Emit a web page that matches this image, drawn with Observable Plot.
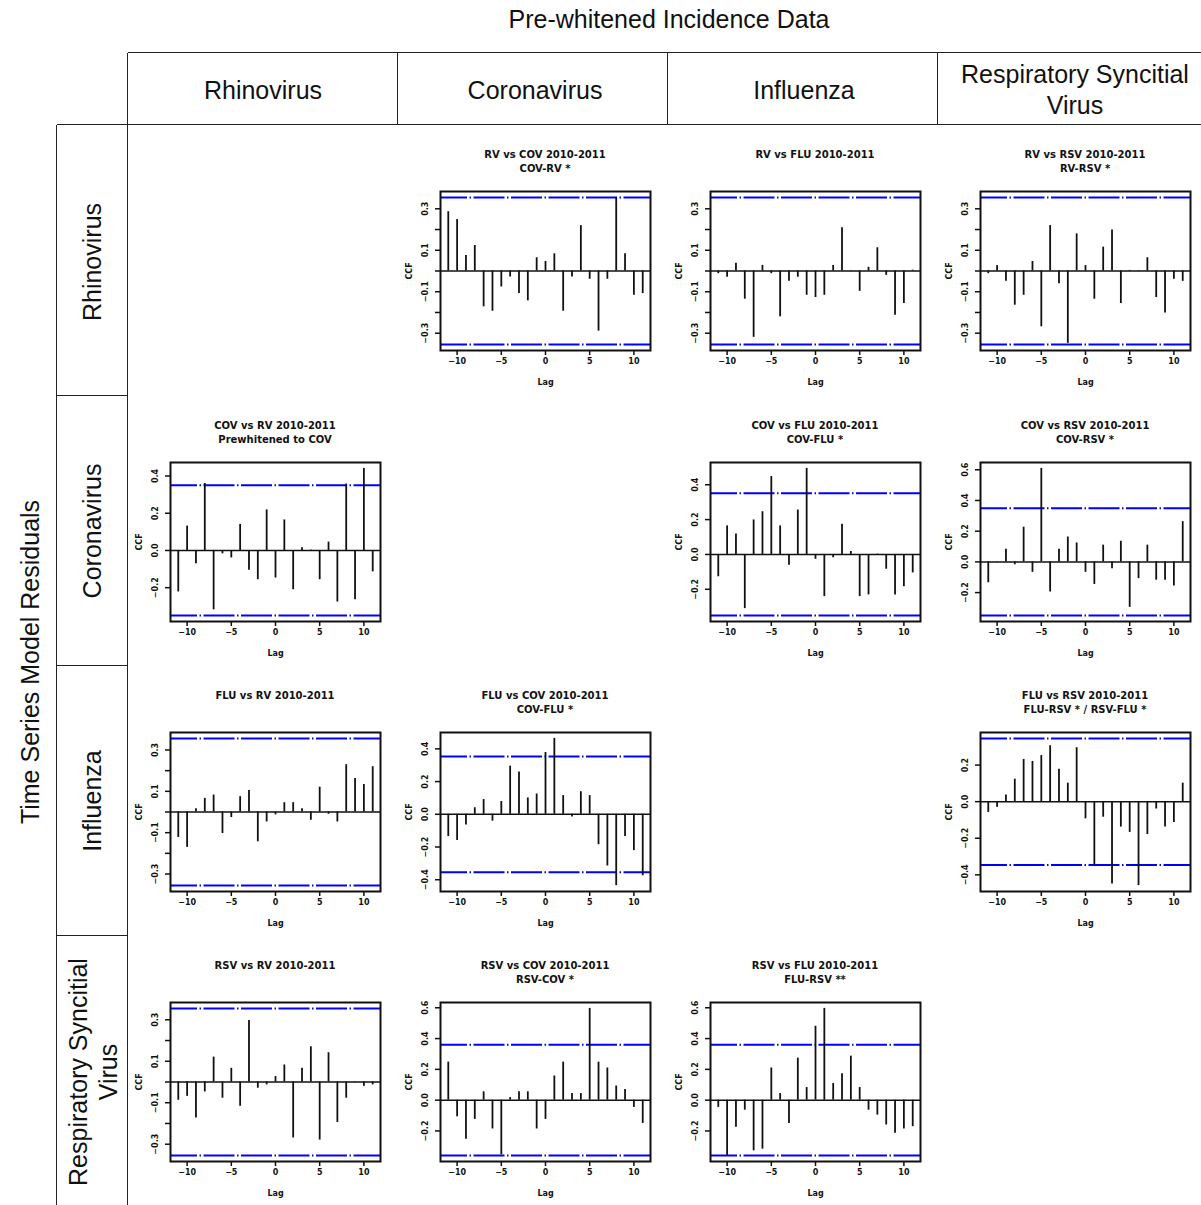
<!DOCTYPE html>
<html><head><meta charset="utf-8">
<script src="https://cdn.jsdelivr.net/npm/d3@7"></script>
<script src="https://cdn.jsdelivr.net/npm/@observablehq/plot@0.6"></script>
<style>
body{margin:0;background:#fff;}
#root{position:relative;width:1201px;height:1205px;overflow:hidden;font-family:"Liberation Sans",Arial,sans-serif;background:#fff;}
.hl{position:absolute;height:0;border-top:1.5px solid #222;}
.vl{position:absolute;width:0;border-left:1.5px solid #222;}
.big{position:absolute;font-size:25px;color:#111;white-space:nowrap;line-height:30px;text-align:center;width:400px;height:30px;}
.ptitle{position:absolute;font:bold 10px "DejaVu Sans";text-align:center;line-height:14px;white-space:nowrap;width:260px;color:#111;}
.panel{position:absolute;}
</style></head><body><div id="root"></div>
<script>
// ---------- data ----------
const lags = [-11,-10,-9,-8,-7,-6,-5,-4,-3,-2,-1,0,1,2,3,4,5,6,7,8,9,10,11];
const rvCov  = [0.286,0.248,0.075,0.123,-0.173,-0.194,-0.077,-0.029,-0.109,-0.144,0.064,0.046,0.083,-0.194,-0.029,0.219,-0.040,-0.290,-0.040,0.355,0.083,-0.117,-0.109];
const rvFlu  = [-0.013,-0.030,0.037,-0.136,-0.320,0.027,-0.013,-0.221,-0.050,-0.030,-0.117,-0.128,-0.117,0.027,0.208,0.002,-0.098,0.018,0.112,-0.021,-0.213,-0.157,0.004];
const rvRsv  = [-0.013,0.026,-0.050,-0.165,-0.117,0.046,-0.269,0.219,-0.061,-0.349,0.179,0.026,-0.136,0.115,0.198,-0.157,0.003,-0.002,0.064,-0.128,-0.202,-0.040,-0.050];
const covRv  = [-0.223,0.131,-0.072,0.360,-0.319,-0.018,-0.040,0.140,-0.106,-0.157,0.218,-0.148,0.164,-0.211,0.014,0.002,-0.157,0.045,-0.277,0.357,-0.265,0.441,-0.115];
const covFlu = [-0.128,0.164,0.117,-0.311,0.198,0.245,0.447,0.164,-0.062,0.255,0.494,-0.028,-0.242,-0.019,0.174,0.017,-0.242,-0.232,0.002,-0.085,-0.232,-0.185,-0.106];
const covRsv = [-0.136,0.002,0.083,-0.019,0.226,-0.068,0.609,-0.196,0.083,0.162,0.123,-0.068,-0.147,0.109,-0.045,0.134,-0.296,-0.109,0.109,-0.119,-0.119,-0.157,0.262];
const fluRv  = [-0.123,-0.171,0.016,0.066,0.082,-0.104,-0.027,0.074,0.104,-0.144,-0.048,-0.014,0.045,0.045,0.016,-0.040,0.120,-0.011,-0.048,0.229,0.162,0.133,0.219];
const fluCov = [-0.136,-0.160,-0.066,0.040,0.090,-0.042,0.078,0.294,0.258,0.100,0.124,0.378,0.464,0.114,-0.016,0.138,0.114,-0.186,-0.316,-0.436,-0.136,-0.222,-0.376];
const fluRsv = [-0.059,-0.031,0.036,0.123,0.231,0.220,0.252,0.306,0.177,0.101,0.295,-0.094,-0.346,-0.085,-0.450,-0.139,-0.168,-0.459,-0.180,-0.040,-0.139,-0.114,0.101];
const rsvRv  = [-0.088,-0.069,-0.174,-0.048,0.120,-0.078,0.066,-0.117,0.296,-0.030,-0.014,0.026,0.082,-0.270,0.066,0.170,-0.280,0.141,-0.195,-0.078,0.002,-0.021,-0.014];
const rsvCov = [0.247,-0.108,-0.254,-0.125,0.054,-0.187,-0.355,0.017,0.054,0.054,-0.187,-0.125,0.157,0.247,0.043,0.043,0.596,0.247,0.209,0.092,0.069,-0.047,-0.151];
const rsvFlu = [-0.047,-0.359,-0.176,-0.065,-0.329,-0.318,0.209,0.043,-0.151,0.273,0.082,0.480,0.596,0.108,0.172,0.286,0.082,-0.065,-0.097,-0.161,-0.215,-0.187,-0.172];

const virusNames = ["Rhinovirus","Coronavirus","Influenza","Respiratory Syncitial Virus"];
const mainTitle = "Pre-whitened Incidence Data";
const sideTitle = "Time Series Model Residuals";
const xTicks = [-10,-5,0,5,10];
const yTicksFine = [-0.3,-0.2,-0.1,0,0.1,0.2,0.3];
const yLabelsFine = [-0.3,-0.1,0.1,0.3];
const yTicksCoarse = [-0.4,-0.2,0,0.2,0.4,0.6];

const panels = [
  {row:0,col:1,title:"RV vs COV 2010-2011",sub:"COV-RV *",values:rvCov,ci:0.355,fine:true},
  {row:0,col:2,title:"RV vs FLU 2010-2011",sub:"",values:rvFlu,ci:0.355,fine:true},
  {row:0,col:3,title:"RV vs RSV 2010-2011",sub:"RV-RSV *",values:rvRsv,ci:0.355,fine:true},
  {row:1,col:0,title:"COV vs RV 2010-2011",sub:"Prewhitened to COV",values:covRv,ci:0.35,fine:false},
  {row:1,col:2,title:"COV vs FLU 2010-2011",sub:"COV-FLU *",values:covFlu,ci:0.351,fine:false},
  {row:1,col:3,title:"COV vs RSV 2010-2011",sub:"COV-RSV *",values:covRsv,ci:0.35,fine:false},
  {row:2,col:0,title:"FLU vs RV 2010-2011",sub:"",values:fluRv,ci:0.356,fine:true},
  {row:2,col:1,title:"FLU vs COV 2010-2011",sub:"COV-FLU *",values:fluCov,ci:0.354,fine:false},
  {row:2,col:3,title:"FLU vs RSV 2010-2011",sub:"FLU-RSV * / RSV-FLU *",values:fluRsv,ci:0.346,fine:false},
  {row:3,col:0,title:"RSV vs RV 2010-2011",sub:"",values:rsvRv,ci:0.355,fine:true},
  {row:3,col:1,title:"RSV vs COV 2010-2011",sub:"RSV-COV *",values:rsvCov,ci:0.36,fine:false},
  {row:3,col:2,title:"RSV vs FLU 2010-2011",sub:"FLU-RSV **",values:rsvFlu,ci:0.36,fine:false}
];

// ---------- layout ----------
const root = document.getElementById("root");
const colX = [128,398,668,938];
const rowY = [125,396,666,936];

function hline(x1,x2,y){const d=document.createElement("div");d.className="hl";d.style.left=x1+"px";d.style.width=(x2-x1)+"px";d.style.top=(y-0.75)+"px";root.appendChild(d);}
function vline(x,y1,y2){const d=document.createElement("div");d.className="vl";d.style.left=(x-0.75)+"px";d.style.top=y1+"px";d.style.height=(y2-y1)+"px";root.appendChild(d);}
function bigText(txt,cx,cy,rot){const d=document.createElement("div");d.className="big";d.textContent=txt;d.style.left=(cx-200)+"px";d.style.top=(cy-15)+"px";if(rot)d.style.transform="rotate(-90deg)";root.appendChild(d);}

hline(128,1201,53);
hline(57,1201,125);
vline(128,53,1205);
[398,668,938].forEach(x=>vline(x,53,125));
vline(57,125,1205);
[396,666,936].forEach(y=>hline(57,128,y));

bigText(mainTitle,669,19,false);
bigText(sideTitle,30,662,true);
// column headers
bigText(virusNames[0],263,90,false);
bigText(virusNames[1],535,90,false);
bigText(virusNames[2],804,90,false);
bigText("Respiratory Syncitial",1075,74,false);
bigText("Virus",1075,105,false);
// row headers
bigText(virusNames[0],92,262,true);
bigText(virusNames[1],92,531,true);
bigText(virusNames[2],92,801,true);
bigText("Respiratory Syncitial",78,1072,true);
bigText("Virus",108,1072,true);

const fmt1 = d3.format(".1f");
const fmtX = d3.format("d");

panels.forEach(p=>{
  const x0 = colX[p.col], y0 = rowY[p.row];
  const data = lags.map((l,i)=>({lag:l, acf:p.values[i]}));
  const lo = Math.min(d3.min(p.values), -p.ci), hi = Math.max(d3.max(p.values), p.ci);
  const pad = 0.04*(hi-lo);
  const domain = [lo-pad, hi+pad];
  const ticks = (p.fine ? yTicksFine : yTicksCoarse).filter(t=>t>=domain[0] && t<=domain[1]);
  const labelled = new Set((p.fine ? yLabelsFine : ticks).map(v=>v.toFixed(1)));
  const chart = Plot.plot({
    width:270, height:270,
    marginLeft:42, marginRight:18, marginTop:66, marginBottom:45,
    style:{fontFamily:"DejaVu Sans", fontWeight:"bold", fontSize:"8px", color:"#111", background:"transparent"},
    x:{domain:[-11.88,11.88]},
    y:{domain},
    marks:[
      Plot.ruleY([0],{stroke:"#111",strokeWidth:1.5}),
      Plot.ruleY([p.ci,-p.ci],{stroke:"#0000ff",strokeWidth:2,strokeDasharray:"31,2.5,1.5,2.5",strokeDashoffset:4}),
      Plot.ruleX(data,{x:"lag",y1:0,y2:"acf",stroke:"#111",strokeWidth:1.8}),
      Plot.frame({stroke:"#111",strokeWidth:2}),
      Plot.axisX({ticks:xTicks,tickFormat:fmtX,tickSize:5,tickPadding:3,label:"Lag",labelAnchor:"center",labelArrow:"none",labelOffset:34,strokeWidth:1.5}),
      Plot.axisY({ticks:ticks,tickFormat:d=>labelled.has(d.toFixed(1))?fmt1(d):"",tickRotate:-90,tickSize:5,tickPadding:8,label:"CCF",labelAnchor:"center",labelArrow:"none",labelOffset:34,strokeWidth:1.5})
    ]
  });
  chart.classList.add("panel");
  chart.style.left = x0+"px";
  chart.style.top = y0+"px";
  root.appendChild(chart);
  const t = document.createElement("div");
  t.className="ptitle";
  t.innerHTML = p.title + (p.sub ? "<br>"+p.sub : "");
  t.style.left = (x0+147-130)+"px";
  t.style.top = (y0+23)+"px";
  root.appendChild(t);
});
</script></body></html>
